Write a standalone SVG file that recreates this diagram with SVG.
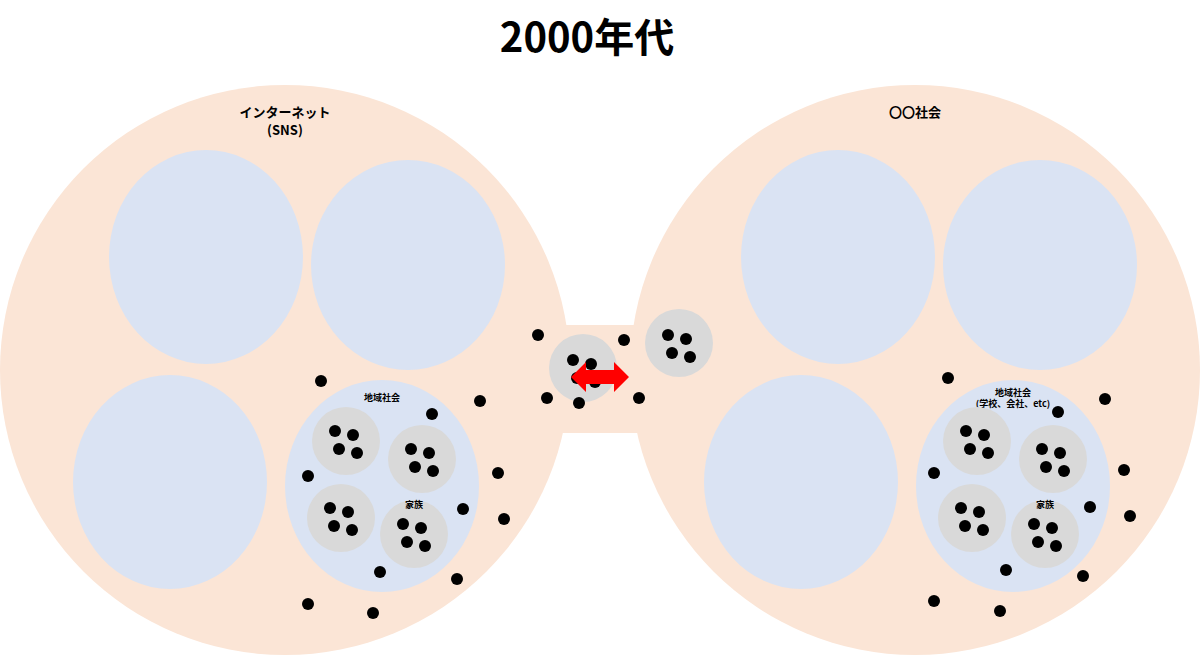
<svg xmlns="http://www.w3.org/2000/svg" width="1200" height="655" viewBox="0 0 1200 655">
<style>
.bg{fill:#FBE5D6}.bl{fill:#DAE3F3}.gr{fill:#D9D9D9}.d{fill:#000}
text{font-family:"Noto Sans CJK JP","Liberation Sans",sans-serif;font-weight:bold;text-anchor:middle;fill:#000}
</style>
<defs>
<g id="four"><circle class="d" cx="-11" cy="-10" r="6"/><circle class="d" cx="7" cy="-6" r="6"/><circle class="d" cx="-7" cy="8" r="6"/><circle class="d" cx="11" cy="12" r="6"/></g>
</defs>
<rect width="1200" height="655" fill="#fff"/>
<text x="587" y="52" font-size="40">2000年代</text>
<g id="left">
<circle class="bg" cx="285" cy="370" r="285"/>
<ellipse class="bl" cx="206" cy="257" rx="97" ry="107"/>
<ellipse class="bl" cx="408" cy="265" rx="97" ry="105"/>
<ellipse class="bl" cx="170" cy="482" rx="97" ry="107"/>
<text x="285" y="117" font-size="13">インターネット</text>
<text x="285" y="135" font-size="13">(SNS)</text>
</g>
<g id="right">
<circle class="bg" cx="915" cy="370" r="285"/>
<ellipse class="bl" cx="838" cy="257" rx="97" ry="107"/>
<ellipse class="bl" cx="1040" cy="265" rx="97" ry="105"/>
<ellipse class="bl" cx="801" cy="482" rx="97" ry="107"/>
<text x="915" y="117" font-size="13">〇〇社会</text>
</g>
<rect id="bridge" class="bg" x="540" y="325" width="120" height="108"/>
<g id="local-left">
<ellipse class="bl" cx="382" cy="486" rx="97" ry="106"/>
<text x="382" y="401" font-size="9">地域社会</text>
<circle class="gr" cx="346" cy="441" r="34"/><use href="#four" x="346" y="441"/>
<circle class="gr" cx="422" cy="459" r="34"/><use href="#four" x="422" y="459"/>
<circle class="gr" cx="341" cy="518" r="34"/><use href="#four" x="341" y="518"/>
<circle class="gr" cx="414" cy="534" r="34"/><use href="#four" x="414" y="534"/>
<text x="414" y="508" font-size="9">家族</text>
</g>
<g id="local-right">
<ellipse class="bl" cx="1013" cy="486" rx="97" ry="106"/>
<text x="1013" y="396" font-size="9">地域社会</text>
<text x="1013" y="407" font-size="9">(学校、会社、etc)</text>
<circle class="gr" cx="977" cy="441" r="34"/><use href="#four" x="977" y="441"/>
<circle class="gr" cx="1053" cy="459" r="34"/><use href="#four" x="1053" y="459"/>
<circle class="gr" cx="972" cy="518" r="34"/><use href="#four" x="972" y="518"/>
<circle class="gr" cx="1045" cy="534" r="34"/><use href="#four" x="1045" y="534"/>
<text x="1045" y="508" font-size="9">家族</text>
</g>
<g id="center">
<circle class="gr" cx="583" cy="368" r="34"/><use href="#four" x="584" y="370"/>
<circle class="gr" cx="679" cy="343" r="34"/><use href="#four" x="679" y="345"/>
</g>
<g id="dots" class="d">
<circle cx="321" cy="381" r="6"/><circle cx="480" cy="401" r="6"/><circle cx="432" cy="414" r="6"/><circle cx="308" cy="476" r="6"/><circle cx="498" cy="473" r="6"/><circle cx="463" cy="509" r="6"/><circle cx="504" cy="519" r="6"/><circle cx="380" cy="572" r="6"/><circle cx="457" cy="579" r="6"/><circle cx="308" cy="604" r="6"/><circle cx="373" cy="613" r="6"/>
<circle cx="948" cy="378" r="6"/><circle cx="1105" cy="399" r="6"/><circle cx="1058" cy="412" r="6"/><circle cx="934" cy="473" r="6"/><circle cx="1124" cy="470" r="6"/><circle cx="1090" cy="507" r="6"/><circle cx="1130" cy="516" r="6"/><circle cx="1006" cy="570" r="6"/><circle cx="1083" cy="576" r="6"/><circle cx="934" cy="601" r="6"/><circle cx="1000" cy="611" r="6"/>
<circle cx="538" cy="335" r="6"/><circle cx="547" cy="398" r="6"/><circle cx="579" cy="403" r="6"/><circle cx="624" cy="340" r="6"/><circle cx="639" cy="398" r="6"/>
</g>
<g id="connectors">
<polygon fill="#FF0000" points="571,377 586,362 586,370 614,370 614,362 629,377 614,392 614,384 586,384 586,392"/>
</g>
</svg>
